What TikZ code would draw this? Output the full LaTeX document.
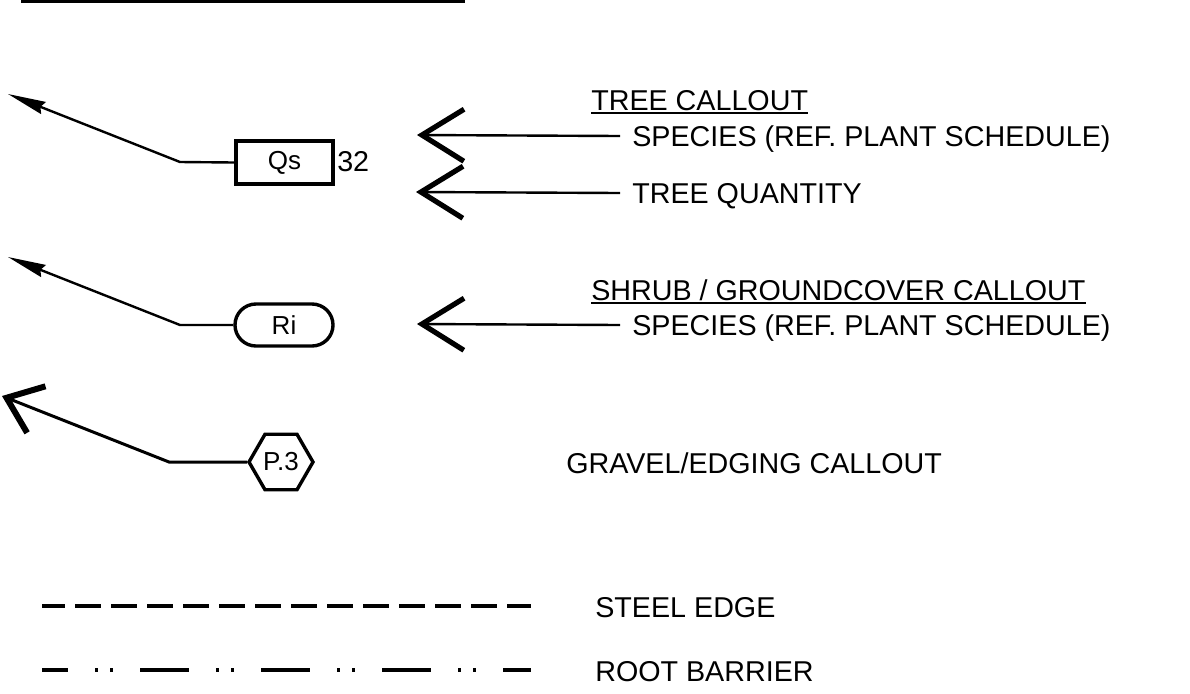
\documentclass[tikz,border=0pt]{standalone}
\usepackage{fontspec}
\setmainfont{Liberation Sans}
\usetikzlibrary{arrows.meta,shapes.geometric}

\begin{document}
\begin{tikzpicture}[x=0.025cm,y=-0.025cm,
    every node/.style={font=\fontsize{20.4}{24}\selectfont},
    leader/.style={line width=0.06cm,-{Stealth[length=0.95cm,width=0.32cm,inset=0.08cm]}},
    pointer/.style={line width=0.06cm,-{Straight Barb[length=1.05cm,width=1.3cm,line width=0.13cm]}},
    tag/.style={draw,line width=0.085cm,inner sep=0pt,font=\fontsize{18.5}{22}\selectfont},
    legend/.style={anchor=west,inner xsep=0.3cm,inner ysep=0pt,text depth=0pt},
    heading/.style={anchor=base west,inner xsep=0pt,inner ysep=0.08cm,text depth=0pt},
    sample/.style={line width=0.1cm}]
    \useasboundingbox (0,0) rectangle (1190,693);
    
    \draw[line width=0.1cm] (21,1) -- (465,1);
    
    \node[tag,minimum width=2.425cm,minimum height=1.075cm] (qs) at (284.5,162.5) {Qs};
    \node[anchor=west,inner sep=0pt] (qsqty) at (337,162) {32};
    \node[tag,rounded corners=0.525cm,minimum width=2.45cm,minimum height=1.05cm] (ri) at (284,325) {Ri};
    \node[tag,regular polygon,regular polygon sides=6,minimum size=1.6cm] (p3) at (281,462) {P.3};
    
    \coordinate (qsbend) at (180,162);
    \coordinate (qstip) at (8,94);
    \coordinate (ribend) at (180,325);
    \coordinate (ritip) at (8,257);
    \coordinate (p3bend) at (169,462);
    \coordinate (p3tip) at (2,396);
    
    \draw[leader] (qs.west) -- (qsbend) -- (qstip);
    \draw[leader] (ri.west) -- (ribend) -- (ritip);
    \draw[line width=0.075cm,-{Straight Barb[length=0.8cm,width=1.25cm,line width=0.15cm]}] (p3.west) -- (p3bend) -- (p3tip);
    
    \node[heading] (treehead) at (591,110) {TREE CALLOUT};
    \node[legend] (treesp) at (620,136) {SPECIES (REF. PLANT SCHEDULE)};
    \node[legend] (treeqty) at (620,193) {TREE QUANTITY};
    \node[heading] (shrubhead) at (591,300) {SHRUB / GROUNDCOVER CALLOUT};
    \node[legend] (shrubsp) at (620,325) {SPECIES (REF. PLANT SCHEDULE)};
    \node[legend] (gravel) at (554,463) {GRAVEL/EDGING CALLOUT};
    \node[legend] (steel) at (583,607) {STEEL EDGE};
    \node[legend] (root) at (583,671) {ROOT BARRIER};
    
    \coordinate (treesptip) at (417,135);
    \coordinate (treeqtytip) at (416,192);
    \coordinate (shrubsptip) at (417,324);
    
    \draw[line width=0.05cm] (treehead.south west) -- (treehead.south east);
    \draw[line width=0.05cm] (shrubhead.south west) -- (shrubhead.south east);
    \draw[pointer] (treesp.west) -- (treesptip);
    \draw[pointer] (treeqty.west) -- (treeqtytip);
    \draw[pointer] (shrubsp.west) -- (shrubsptip);
    
    \coordinate (steelfrom) at (42,606);
    \coordinate (steelto) at (531,606);
    \coordinate (rootfrom) at (42,670);
    \coordinate (rootto) at (531,670);
    \draw[sample,dash pattern=on 0.65cm off 0.25cm,dash phase=0.075cm] (steelfrom) -- (steelto);
    \draw[sample,dash pattern=on 1.225cm off 0.675cm on 0.075cm off 0.3cm on 0.075cm off 0.675cm,dash phase=0.575cm] (rootfrom) -- (rootto);
   \end{tikzpicture}
\end{document}
